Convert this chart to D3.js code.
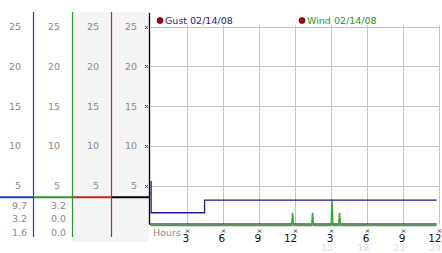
<!DOCTYPE html>
<html><head><meta charset="utf-8">
<script src="https://cdn.jsdelivr.net/npm/d3@7"></script>
<style>body{margin:0;background:#fff}svg{display:block}text{font-family:"DejaVu Sans",Verdana,sans-serif}</style>
</head><body>
<svg id="c" width="442" height="253"></svg>
<script>
// ---- data ----
const yTicks = [5, 10, 15, 20, 25];
const hourTicks = [3, 6, 9, 12, 15, 18, 21, 24];
const hourLabels = ["3", "6", "9", "12", "3", "6", "9", "12"];
const hour24Labels = ["15", "18", "21", "24"];
const hour24Ticks = [15, 18, 21, 24];
const seriesNames = ["Gust 02/14/08", "Wind 02/14/08"];
const gustStats = ["9.7", "3.2", "1.6"];
const windStats = ["3.2", "0.0", "0.0"];
const cursorValue = 3.55;
const gustHours = [0, 0.05, 4.5, 23.8];
const gustValues = [5.5, 1.6, 3.2, 3.2];
const windHours = [0, 11.74, 11.82, 11.9, 13.4, 13.48, 13.56, 15.02, 15.1, 15.18, 15.65, 15.73, 15.81, 23.8];
const windValues = [0, 0, 1.6, 0, 0, 1.6, 0, 0, 3.2, 0, 0, 1.6, 0, 0];

// ---- layout ----
const svg = d3.select("#c");
const x = d3.scaleLinear().domain([0, 24]).range([150.5, 439]);
const y = d3.scaleLinear().domain([0, 25]).range([225.5, 26.5]);
const colEdges = [0, 33, 72, 111, 149];
const colColors = ["#1e3fbf", "#2a9a2a", "#cc2222", "#000000"];
const colBg = ["#ffffff", "#ffffff", "#f5f5f5", "#f5f5f5"];
const gustColor = "#1a1a8f", windColor = "#33aa33";

// column backgrounds
for (let i = 0; i < 4; i++) {
  svg.append("rect").attr("x", colEdges[i]).attr("y", 12)
    .attr("width", colEdges[i + 1] - colEdges[i]).attr("height", 230)
    .attr("fill", colBg[i]);
}
// column tick labels
for (let i = 0; i < 4; i++) {
  svg.append("g").selectAll("text").data(yTicks).join("text")
    .attr("x", colEdges[i + 1] - 12).attr("y", d => y(d) + 3.5)
    .attr("text-anchor", "end").attr("font-size", 9.5).attr("fill", "#8a8a8a")
    .text(d => d);
}
// stats
[gustStats, windStats].forEach((arr, i) => {
  svg.append("g").selectAll("text").data(arr).join("text")
    .attr("x", colEdges[i + 1] - 6).attr("y", (d, j) => y(cursorValue) + 11.5 + j * 13.5)
    .attr("text-anchor", "end").attr("font-size", 9.5).attr("fill", "#8a8a8a")
    .text(d => d);
});
// cursor line
for (let i = 0; i < 4; i++) {
  svg.append("line").attr("x1", colEdges[i]).attr("x2", colEdges[i + 1])
    .attr("y1", y(cursorValue)).attr("y2", y(cursorValue))
    .attr("stroke", colColors[i]).attr("stroke-width", 2);
}
// column separator lines
for (let i = 0; i < 3; i++) {
  svg.append("line").attr("x1", colEdges[i + 1] + 0.5).attr("x2", colEdges[i + 1] + 0.5)
    .attr("y1", 12).attr("y2", 237).attr("stroke", colColors[i]).attr("stroke-width", 1.2);
}

// grid
svg.append("g").selectAll("line").data(yTicks).join("line")
  .attr("x1", x(0)).attr("x2", x(24)).attr("y1", d => Math.round(y(d)) + 0.5).attr("y2", d => Math.round(y(d)) + 0.5)
  .attr("stroke", "#c4c4c4");
svg.append("g").selectAll("line").data(hourTicks).join("line")
  .attr("x1", d => Math.round(x(d)) + 0.5).attr("x2", d => Math.round(x(d)) + 0.5).attr("y1", 25).attr("y2", y(0) - 1)
  .attr("stroke", "#c4c4c4");

// tiny cross markers
function cross(cx, cy) {
  svg.append("path").attr("d", `M${cx-1.5},${cy-1.5}L${cx+1.5},${cy+1.5}M${cx+1.5},${cy-1.5}L${cx-1.5},${cy+1.5}`)
    .attr("stroke", "#333").attr("stroke-width", 0.9);
}
yTicks.forEach(d => cross(146.5, Math.round(y(d)) + 0.5));
hourTicks.forEach(d => cross(Math.round(x(d)) + 0.5, 231));

// axes lines
svg.append("line").attr("x1", 149.5).attr("x2", 149.5).attr("y1", 13).attr("y2", y(0) - 1)
  .attr("stroke", "#000").attr("stroke-width", 1.3);
svg.append("line").attr("x1", 149).attr("x2", x(23.8)).attr("y1", y(0) - 1.5).attr("y2", y(0) - 1.5)
  .attr("stroke", "#000").attr("stroke-width", 1.2);

// series
const line = d3.line().x(d => x(d[0])).y(d => y(d[1]));
svg.append("path").datum(windHours.map((h, i) => [h, windValues[i]]))
  .attr("d", line).attr("fill", "none").attr("stroke", windColor).attr("stroke-width", 1.4);
svg.append("path").datum(gustHours.map((h, i) => [h, gustValues[i]]))
  .attr("d", line.curve(d3.curveStepAfter)).attr("fill", "none").attr("stroke", gustColor).attr("stroke-width", 1.3);

// hour labels
svg.append("text").attr("x", 153).attr("y", 236).attr("font-size", 9.5).attr("fill", "#8a8a8a").text("Hours");
svg.append("g").selectAll("text").data(hourTicks).join("text")
  .attr("x", d => x(d) + 2.5).attr("y", 241.5).attr("text-anchor", "end")
  .attr("font-size", 10.5).attr("fill", "#111").text((d, i) => hourLabels[i]);
svg.append("g").selectAll("text").data(hour24Ticks).join("text")
  .attr("x", d => x(d) + 2.5).attr("y", 251).attr("text-anchor", "end")
  .attr("font-size", 9.5).attr("fill", "#dcdcdc").text((d, i) => hour24Labels[i]);

// legend
const legX = [160, 302];
const legColors = [gustColor, "#229922"];
seriesNames.forEach((n, i) => {
  svg.append("circle").attr("cx", legX[i]).attr("cy", 20.5).attr("r", 3)
    .attr("fill", "#b00010").attr("stroke", "#400").attr("stroke-width", 0.7);
  svg.append("text").attr("x", legX[i] + 5).attr("y", 24).attr("font-size", 9.5)
    .attr("fill", legColors[i]).text(n);
});
</script>
</body></html>
